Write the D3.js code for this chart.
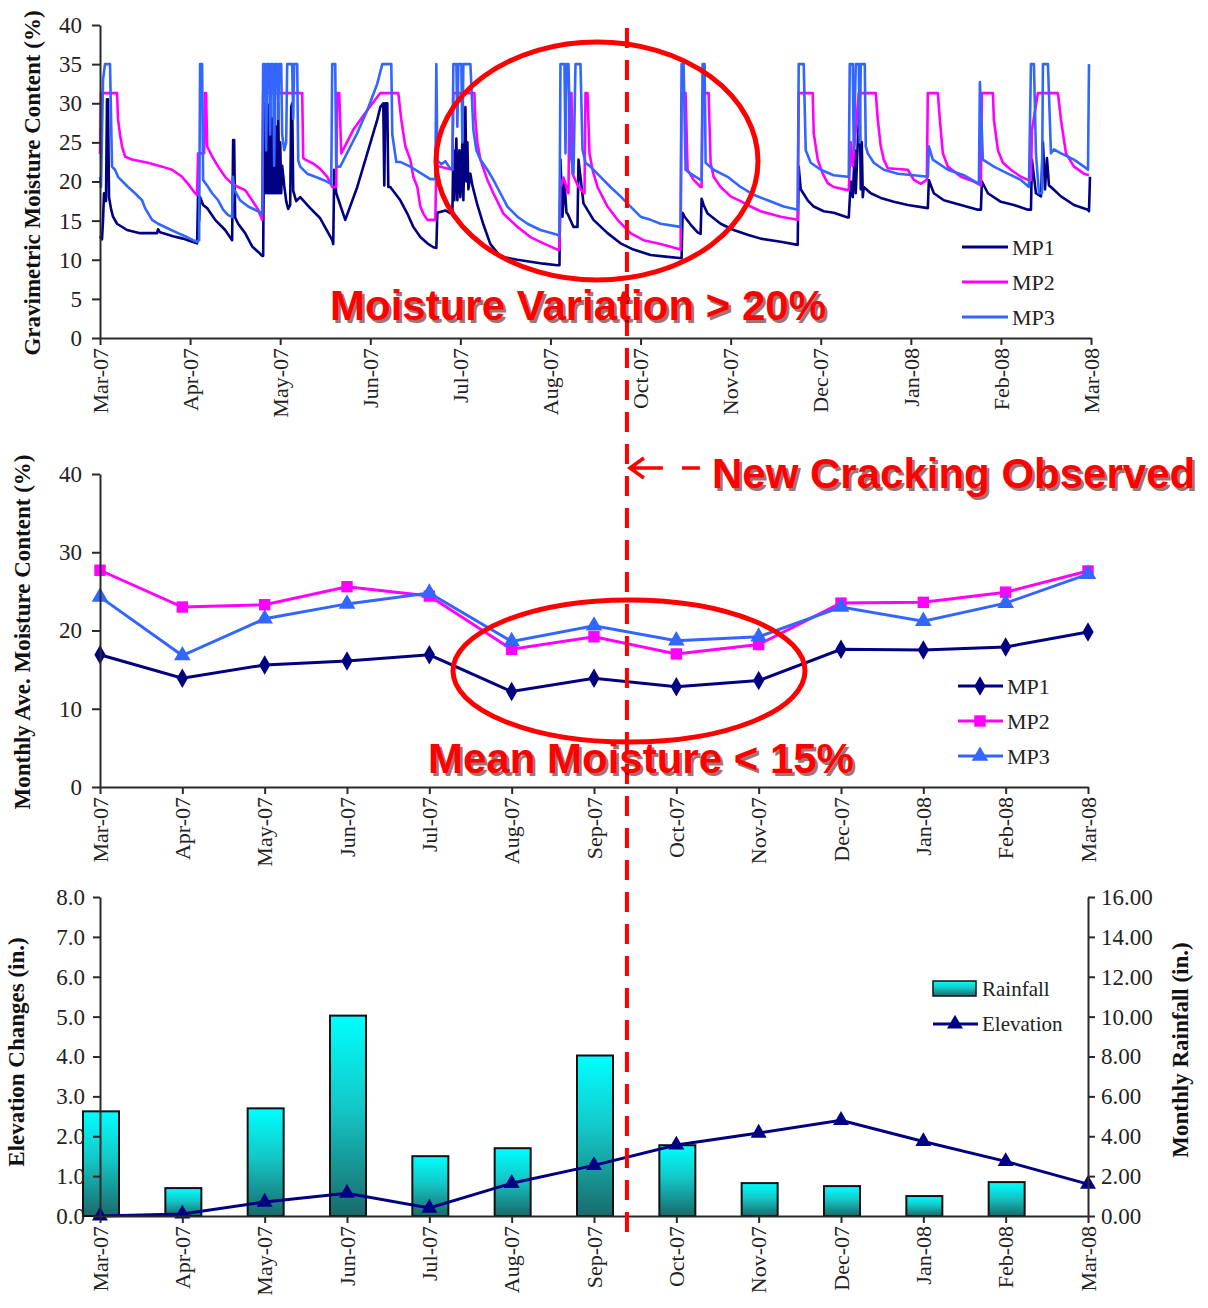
<!DOCTYPE html>
<html><head><meta charset="utf-8">
<script src="https://cdn.jsdelivr.net/npm/d3@7"></script>
<style>
body{margin:0;background:#fff;}
svg{display:block;}
</style></head><body>
<svg id="c" width="1208" height="1308"></svg>
<script>
// ---------- DATA ----------
const topTickLabels = ["Mar-07","Apr-07","May-07","Jun-07","Jul-07","Aug-07","Oct-07","Nov-07","Dec-07","Jan-08","Feb-08","Mar-08"];
const topYTicks = [0,5,10,15,20,25,30,35,40];
// position along record (90 units per labelled tick interval), moisture %
const mp1Trace = [[0,13.0],[2,12.6],[3,15.0],[4,18.5],[6,17.5],[7,30.5],[8,30.5],[9,18.0],[11,16.5],[13,15.5],[17,14.6],[27,13.8],[40,13.4],[57,13.4],[58,13.9],[60,13.5],[73,13.0],[83,12.7],[90,12.4],[97,12.1],[98,18.5],[99,15.0],[100,18.0],[103,17.0],[107,16.6],[115,15.1],[125,13.8],[132,12.5],[133,25.3],[134,25.3],[135,15.4],[138,14.6],[145,13.4],[152,11.7],[158,11.0],[162,10.5],[163,10.5],
[164,30],[165,18.5],[166,29.5],[167,18.5],[168,29.8],[169,18.5],[170,30],[171,18.5],[172,28],[173,18.5],[174,30],[175,18.5],[176,27],[177,18.5],[178,30],[179,18.5],[180,25],[181,18.5],[182,22],[184,19.5],[186,17.5],[188,16.5],[190,17],[191,29.5],[192,30],[193,18.8],[196,17.5],[200,18.0],[210,16.6],[220,15.3],[232,12.5],[233,12.0],[234,21.5],[236,18.5],[245,15.1],[257,19.3],[267,23.6],[277,27.9],[280,29.5],[283,30],[284,19.5],[285,30],[287,30],[288,19.3],[290,19.3],[300,17.6],[307,15.9],[313,14.2],[320,12.9],[327,12.1],[333,11.6],[336,11.5],[337,16.0],[345,16.3],[352,15.8],[353,24],[354,17.6],[356,25.5],[357,17.6],[359,24],[360,18],[362,25],[363,17.6],[365,29.5],[366,20],[367,25],[368,19],[370,21],[372,19.5],[377,17.0],[383,14.5],[390,12.0],[400,10.4],[417,10.0],[443,9.5],[457,9.3],[459,9.3],[460,22.8],[462,15.5],[464,20],[466,16],[467,15.9],[473,14.2],[477,14.2],[478,22.8],[483,17.2],[493,15.1],[507,13.4],[520,12.1],[533,11.3],[550,10.6],[565,10.4],[581,10.2],[582,16.0],[584,15.5],[590,14.5],[597,13.5],[600,13.3],[601,17.8],[603,17.0],[607,15.9],[620,14.6],[633,13.8],[647,13.2],[660,12.7],[680,12.3],[697,11.9],[698,21.9],[700,19],[707,17.6],[713,16.8],[723,16.2],[733,16.0],[747,15.4],[748,15.4],[750,20],[752,18],[754,24],[755,18.5],[757,25],[759,30],[760,19],[761,25],[762,18],[763,19.3],[770,18.5],[780,17.9],[793,17.4],[807,17.0],[827,16.6],[828,20.2],[833,18.5],[843,17.6],[860,17.0],[877,16.4],[880,16.4],[881,20.0],[887,18.5],[900,17.4],[913,17.0],[927,16.4],[930,16.4],[931,22.8],[935,18.5],[940,18.1],[942,25],[944,19],[946,23],[948,19.5],[950,19.3],[960,18.1],[973,17.0],[987,16.4],[988,16.2],[989,20.6]];
const mp2Trace = [[0,23.5],[1,31.3],[17,31.3],[18,28],[20,26],[22,24.5],[25,23.2],[32,22.8],[48,22.4],[62,21.9],[72,21.5],[82,20.6],[88,19.7],[95,18.5],[97,18.3],[98,23.6],[104,23.6],[105,31.3],[106,31.3],[107,24.5],[112,23.2],[118,21.9],[125,20.6],[132,19.7],[138,19.3],[145,18.9],[152,17.6],[158,16.4],[162,15.1],[163,31.3],[202,31.3],[203,23.0],[205,22.8],[213,22.3],[220,21.6],[227,20.6],[232,19.3],[236,19.3],[237,31.3],[239,31.3],[241,23.6],[253,26.6],[267,29.1],[280,31.3],[298,31.3],[301,27.9],[305,24.5],[310,22.8],[313,20.6],[317,19.3],[320,16.8],[323,15.9],[327,15.1],[335,15.1],[336,22.0],[352,21.5],[353,31.3],[374,31.3],[375,27.9],[377,25.0],[380,22.8],[387,20.2],[393,18.5],[403,15.9],[417,14.2],[430,12.9],[443,12.1],[457,11.3],[459,11.3],[460,19.5],[463,20.5],[468,18.5],[469,31.3],[471,31.3],[472,21.0],[478,19.3],[484,18.5],[485,31.3],[487,31.3],[489,23.6],[492,21.5],[497,19.3],[507,16.8],[517,15.1],[530,13.4],[543,12.5],[560,12.0],[580,11.3],[581,31.3],[585,31.3],[587,21.5],[593,20.2],[600,19.3],[601,19.3],[602,31.3],[608,31.3],[610,22.4],[613,20.6],[620,19.3],[630,18.1],[640,17.5],[650,16.8],[660,16.2],[680,15.5],[697,15.1],[698,31.3],[712,31.3],[713,26.2],[717,22.8],[722,21.0],[727,19.8],[733,19.3],[747,18.9],[748,18.9],[750,25],[752,22],[758,31.3],[775,31.3],[777,27.9],[780,24.5],[783,22.8],[787,21.7],[807,21.5],[813,20.2],[820,19.7],[826,20.2],[827,31.3],[837,31.3],[839,27.9],[842,23.6],[847,21.9],[860,20.6],[873,20.0],[880,19.5],[881,31.3],[892,31.3],[893,27.9],[897,24.0],[902,22.4],[910,21.5],[920,20.6],[927,20.2],[930,20.2],[931,26.6],[937,31.3],[957,31.3],[960,27.9],[965,23.6],[973,21.9],[983,21.0],[988,20.8]];
const mp3Trace = [[0,20.6],[1,19.3],[3,33.0],[5,35],[10,35],[12,21.9],[15,21.5],[18,20.6],[28,19.3],[35,18.5],[42,17.6],[45,16.6],[52,15.1],[58,14.6],[68,14.0],[78,13.4],[85,13.0],[93,12.5],[97,12.3],[99,12.5],[100,35],[102,35],[103,20.2],[108,19.3],[112,18.5],[118,17.6],[123,16.4],[128,15.7],[132,15.5],[133,20.6],[134,19.0],[140,17.6],[148,16.8],[158,16.2],[162,15.9],[163,35],[165,35],[166,24],[167,35],[169,35],[170,26],[171,35],[173,35],[174,22],[175,35],[177,35],[178,28],[179,35],[181,35],[182,26],[184,24],[186,25],[187,35],[192,35],[193,28],[194,35],[197,35],[198,22.7],[200,21.9],[207,21.0],[215,20.6],[223,20.2],[231,19.7],[232,35],[235,35],[236,21.9],[240,21.9],[257,26.2],[267,29.1],[277,32.5],[282,35],[291,35],[292,26],[296,22.5],[300,22.5],[310,21.9],[320,21.1],[330,20.3],[335,20.3],[336,35],[337,22.7],[341,22.2],[345,22.6],[349,21.8],[352,21.5],[353,35],[356,35],[357,27],[358,35],[361,35],[362,25],[363,35],[370,35],[373,26.6],[376,24],[380,22.8],[387,21.5],[393,20.2],[400,18.5],[407,16.8],[417,15.5],[427,14.6],[440,13.8],[457,13.2],[459,13.0],[460,35],[464,35],[465,23.6],[466,35],[468,35],[470,23.6],[473,21.0],[475,35],[480,35],[482,24.1],[485,22.4],[490,21.9],[500,20.6],[510,19.3],[520,18.1],[530,16.8],[540,15.5],[550,15.1],[560,14.6],[580,14.2],[581,35],[583,35],[585,21.5],[590,21.0],[600,20.2],[601,20.2],[602,35],[604,35],[605,22.4],[613,21.5],[627,20.6],[640,19.3],[653,18.3],[667,17.6],[683,16.8],[697,16.4],[698,35],[703,35],[705,24],[710,22.4],[720,21.5],[733,20.8],[747,20.6],[748,20.6],[749,35],[752,35],[753,24],[755,35],[758,35],[759,25],[760,35],[764,35],[765,24.5],[767,23.6],[773,22.4],[783,21.5],[797,21.0],[813,20.8],[827,20.6],[828,24.5],[832,22.8],[847,21.5],[863,20.8],[878,19.7],[879,32.7],[882,22.8],[893,21.9],[907,21.0],[920,20.2],[928,19.3],[930,35],[933,35],[935,23.6],[938,18.5],[941,18.5],[942,35],[947,35],[950,23.6],[953,24.1],[960,23.6],[973,22.8],[983,21.9],[987,21.5],[988,35]];

const months = ["Mar-07","Apr-07","May-07","Jun-07","Jul-07","Aug-07","Sep-07","Oct-07","Nov-07","Dec-07","Jan-08","Feb-08","Mar-08"];
const midYTicks = [0,10,20,30,40];
const mp1Avg = [16.9,13.9,15.6,16.1,16.9,12.2,13.9,12.8,13.6,17.6,17.5,17.9,19.8];
const mp2Avg = [27.7,23.0,23.3,25.6,24.4,17.6,19.2,17.0,18.2,23.5,23.6,24.9,27.6];
const mp3Avg = [24.3,16.8,21.5,23.4,24.8,18.6,20.6,18.7,19.2,23.0,21.2,23.5,27.2];

const elevTicks = [0,1,2,3,4,5,6,7,8];
const rainTicks = [0,2,4,6,8,10,12,14,16];
const rainfall = [5.25,1.4,5.4,10.05,3.0,3.4,8.05,3.55,1.65,1.5,1.0,1.7,null];
const elevation = [0.0,0.05,0.35,0.57,0.2,0.82,1.27,1.78,2.08,2.4,1.87,1.37,0.8];

const seriesNames = ["MP1","MP2","MP3"];
const seriesColors = ["#000080","#FF00FF","#3366FF"];

// ---------- DRAW ----------
const svg = d3.select("#c");
const SERIF = "'Liberation Serif','Times New Roman',serif";
const SANS = "'Liberation Sans',Arial,sans-serif";
const AX = "#2a2a2a";

function styleAxis(g, fs){
  g.select(".domain").attr("stroke",AX).attr("stroke-width",2);
  g.selectAll(".tick line").attr("stroke",AX).attr("stroke-width",2);
  g.selectAll(".tick text").attr("font-family",SERIF).attr("font-size",fs||22).attr("fill","#222");
}
function rotateX(g){
  g.selectAll(".tick text").attr("transform","rotate(-90)").attr("text-anchor","end")
    .attr("x",-10).attr("y",0).attr("dy","0.33em");
}
function yTitle(x,y,txt){
  svg.append("text").attr("transform",`translate(${x},${y}) rotate(-90)`)
    .attr("text-anchor","middle").attr("font-family",SERIF).attr("font-weight","bold")
    .attr("font-size",23).attr("fill","#111").text(txt);
}

// defs: bar gradient
const defs = svg.append("defs");
const grad = defs.append("linearGradient").attr("id","barGrad").attr("x1",0).attr("y1",0).attr("x2",0).attr("y2",1);
grad.append("stop").attr("offset","0%").attr("stop-color","#00FFFF");
grad.append("stop").attr("offset","45%").attr("stop-color","#14C8C8");
grad.append("stop").attr("offset","100%").attr("stop-color","#1A6A6A");

// ===== TOP CHART =====
const xTop = d3.scaleLinear().domain([0,990]).range([100,1091]);
const yTop = d3.scaleLinear().domain([0,40]).range([338,25]);
const topTickPos = topTickLabels.map((d,i)=>i*90);

const gTopLines = svg.append("g");
const lineTop = d3.line().x(d=>xTop(d[0])).y(d=>yTop(d[1]));
[mp1Trace,mp2Trace,mp3Trace].forEach((tr,i)=>{
  gTopLines.append("path").datum(tr).attr("d",lineTop).attr("fill","none")
    .attr("stroke",seriesColors[i]).attr("stroke-width",2.6).attr("stroke-linejoin","round");
});

const gTy = svg.append("g").attr("transform",`translate(100,0)`)
  .call(d3.axisLeft(yTop).tickValues(topYTicks).tickSize(8).tickSizeOuter(0).tickPadding(10));
styleAxis(gTy,23);
const gTx = svg.append("g").attr("transform",`translate(0,338)`)
  .call(d3.axisBottom(xTop).tickValues(topTickPos).tickFormat((d,i)=>topTickLabels[i]).tickSize(7).tickSizeOuter(0));
styleAxis(gTx,22); rotateX(gTx);
yTitle(40,183,"Gravimetric Moisture Content (%)");

// top legend
seriesNames.forEach((n,i)=>{
  const y = 247 + i*35;
  svg.append("line").attr("x1",962).attr("x2",1008).attr("y1",y).attr("y2",y)
    .attr("stroke",seriesColors[i]).attr("stroke-width",3);
  svg.append("text").attr("x",1012).attr("y",y).attr("dy","0.35em").attr("font-family",SERIF)
    .attr("font-size",22).attr("fill","#222").text(n);
});

// ===== MIDDLE CHART =====
const xMid = d3.scalePoint().domain(months).range([100,1088]);
const yMid = d3.scaleLinear().domain([0,40]).range([787,474]);
const symTypes = [d3.symbolDiamond, d3.symbolSquare, d3.symbolTriangle];
const symSizes = [110, 130, 120];
const lineMid = d3.line().x((d,i)=>xMid(months[i])).y(d=>yMid(d));
[mp1Avg,mp2Avg,mp3Avg].forEach((arr,i)=>{
  svg.append("path").datum(arr).attr("d",lineMid).attr("fill","none")
    .attr("stroke",seriesColors[i]).attr("stroke-width",3);
  svg.append("g").selectAll("path").data(arr).join("path")
    .attr("transform",(d,j)=>`translate(${xMid(months[j])},${yMid(d)})`)
    .attr("d",d3.symbol().type(symTypes[i]).size(symSizes[i])).attr("fill",seriesColors[i]);
});
const gMy = svg.append("g").attr("transform",`translate(100,0)`)
  .call(d3.axisLeft(yMid).tickValues(midYTicks).tickSize(8).tickSizeOuter(0).tickPadding(10));
styleAxis(gMy,23);
const gMx = svg.append("g").attr("transform",`translate(0,787)`)
  .call(d3.axisBottom(xMid).tickSize(7).tickSizeOuter(0));
styleAxis(gMx,22); rotateX(gMx);
yTitle(30,632,"Monthly Ave. Moisture Content (%)");
seriesNames.forEach((n,i)=>{
  const y = 686 + i*35;
  svg.append("line").attr("x1",958).attr("x2",1003).attr("y1",y).attr("y2",y)
    .attr("stroke",seriesColors[i]).attr("stroke-width",3);
  svg.append("path").attr("transform",`translate(980,${y})`)
    .attr("d",d3.symbol().type(symTypes[i]).size(symSizes[i])).attr("fill",seriesColors[i]);
  svg.append("text").attr("x",1007).attr("y",y).attr("dy","0.35em").attr("font-family",SERIF)
    .attr("font-size",22).attr("fill","#222").text(n);
});

// ===== BOTTOM CHART =====
const xBot = d3.scalePoint().domain(months).range([100,1088]);
const yElev = d3.scaleLinear().domain([0,8]).range([1216,897]);
const yRain = d3.scaleLinear().domain([0,16]).range([1216,897]);
const barW = 36;
svg.append("g").selectAll("rect").data(rainfall.map((v,i)=>({m:months[i],v})).filter(d=>d.v!=null))
  .join("rect").attr("x",d=>xBot(d.m)-barW/2+1).attr("width",barW)
  .attr("y",d=>yRain(d.v)).attr("height",d=>yRain(0)-yRain(d.v))
  .attr("fill","url(#barGrad)").attr("stroke","#111").attr("stroke-width",2);
const lineEl = d3.line().x((d,i)=>xBot(months[i])).y(d=>yElev(d));
svg.append("path").datum(elevation).attr("d",lineEl).attr("fill","none")
  .attr("stroke","#000080").attr("stroke-width",3);
svg.append("g").selectAll("path").data(elevation).join("path")
  .attr("transform",(d,i)=>`translate(${xBot(months[i])},${yElev(d)})`)
  .attr("d",d3.symbol().type(d3.symbolTriangle).size(110)).attr("fill","#000080");

const gBy = svg.append("g").attr("transform",`translate(100,0)`)
  .call(d3.axisLeft(yElev).tickValues(elevTicks).tickFormat(d3.format(".1f")).tickSize(7).tickSizeOuter(0).tickPadding(8));
styleAxis(gBy,23);
const gBr = svg.append("g").attr("transform",`translate(1088,0)`)
  .call(d3.axisRight(yRain).tickValues(rainTicks).tickFormat(d3.format(".2f")).tickSize(7).tickSizeOuter(0).tickPadding(6));
styleAxis(gBr,23);
const gBx = svg.append("g").attr("transform",`translate(0,1216)`)
  .call(d3.axisBottom(xBot).tickSize(7).tickSizeOuter(0));
styleAxis(gBx,22); rotateX(gBx);
yTitle(24,1052,"Elevation Changes (in.)");
yTitle(1188,1050,"Monthly Rainfall (in.)");
// bottom legend
svg.append("rect").attr("x",933).attr("y",981).attr("width",43).attr("height",15)
  .attr("fill","url(#barGrad)").attr("stroke","#111").attr("stroke-width",1.5);
svg.append("text").attr("x",982).attr("y",989).attr("dy","0.35em").attr("font-family",SERIF)
  .attr("font-size",21).attr("fill","#222").text("Rainfall");
svg.append("line").attr("x1",933).attr("x2",978).attr("y1",1024).attr("y2",1024)
  .attr("stroke","#000080").attr("stroke-width",3);
svg.append("path").attr("transform","translate(955,1024)")
  .attr("d",d3.symbol().type(d3.symbolTriangle).size(110)).attr("fill","#000080");
svg.append("text").attr("x",982).attr("y",1024).attr("dy","0.35em").attr("font-family",SERIF)
  .attr("font-size",21).attr("fill","#222").text("Elevation");

// ===== ANNOTATIONS =====
const RED = "#FF0000";
const crackX = xMid("Sep-07") + 0.4*xMid.step();
svg.append("ellipse").attr("cx",597).attr("cy",161).attr("rx",161).attr("ry",119)
  .attr("fill","none").attr("stroke",RED).attr("stroke-width",5);
svg.append("ellipse").attr("cx",629).attr("cy",671).attr("rx",176).attr("ry",71)
  .attr("fill","none").attr("stroke",RED).attr("stroke-width",5);
svg.append("line").attr("x1",crackX).attr("x2",crackX).attr("y1",28).attr("y2",1236)
  .attr("stroke",RED).attr("stroke-width",4).attr("stroke-dasharray","20,12");
// arrow
svg.append("path").attr("d",`M${crackX+3},468 L${crackX+36},468 M${crackX+17},458 L${crackX+3},468 L${crackX+17},478 M${crackX+55},468 L${crackX+73},468`)
  .attr("fill","none").attr("stroke",RED).attr("stroke-width",3.5);

function redText(x,y,txt){
  svg.append("text").attr("x",x+2.5).attr("y",y+2.5).attr("font-family",SANS).attr("font-weight","bold")
    .attr("font-size",42).attr("fill","#5a0000").attr("opacity",0.55).text(txt);
  svg.append("text").attr("x",x).attr("y",y).attr("font-family",SANS).attr("font-weight","bold")
    .attr("font-size",42).attr("fill",RED).text(txt);
}
redText(330,320,"Moisture Variation > 20%");
redText(712,488,"New Cracking Observed");
redText(428,773,"Mean Moisture < 15%");
</script>
</body></html>
